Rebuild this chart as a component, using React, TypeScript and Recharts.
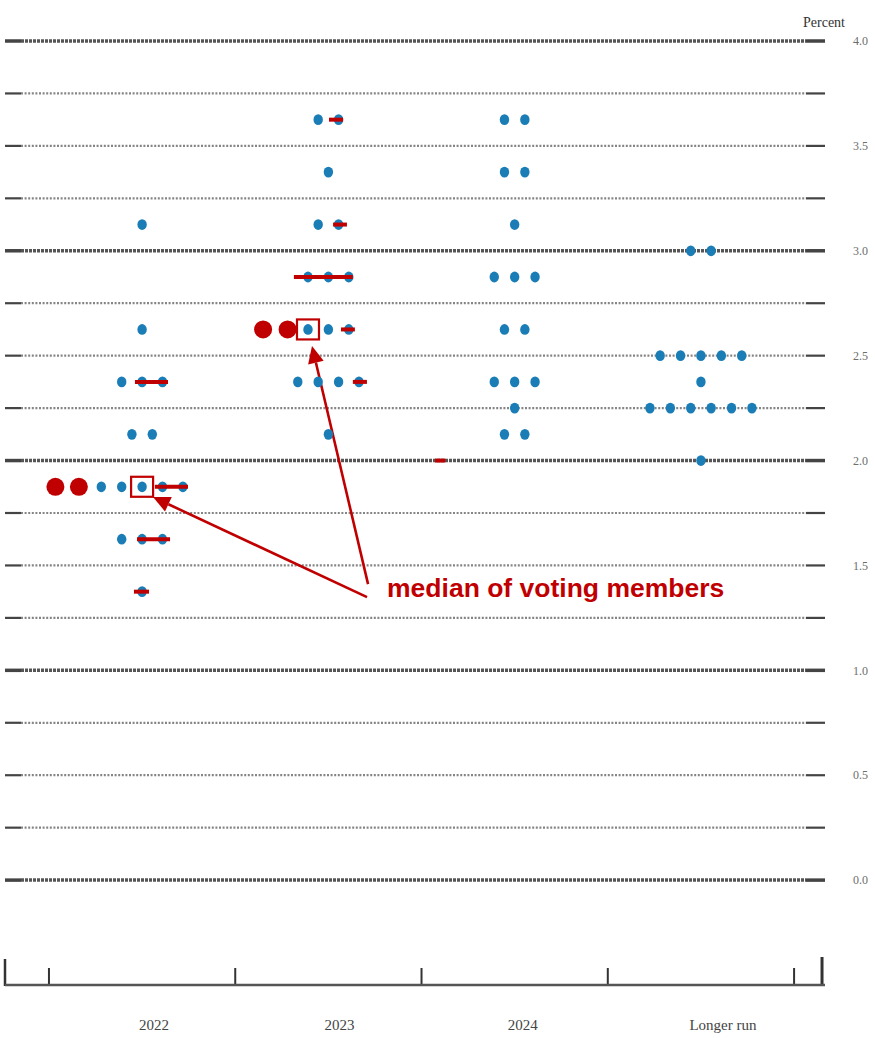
import React from "react";
import { ScatterChart, Scatter, XAxis, YAxis, ReferenceLine } from "recharts";

const categories = ["2022", "2023", "2024", "Longer run"];

// number of participants at each rate, per horizon
const dots2022 = [
  { rate: 3.125, n: 1 },
  { rate: 2.625, n: 1 },
  { rate: 2.375, n: 3 },
  { rate: 2.125, n: 2 },
  { rate: 1.875, n: 5 },
  { rate: 1.625, n: 3 },
  { rate: 1.375, n: 1 },
];
const dots2023 = [
  { rate: 3.625, n: 2 },
  { rate: 3.375, n: 1 },
  { rate: 3.125, n: 2 },
  { rate: 2.875, n: 3 },
  { rate: 2.625, n: 3 },
  { rate: 2.375, n: 4 },
  { rate: 2.125, n: 1 },
];
const dots2024 = [
  { rate: 3.625, n: 2 },
  { rate: 3.375, n: 2 },
  { rate: 3.125, n: 1 },
  { rate: 2.875, n: 3 },
  { rate: 2.625, n: 2 },
  { rate: 2.375, n: 3 },
  { rate: 2.25, n: 1 },
  { rate: 2.125, n: 2 },
];
const dotsLongerRun = [
  { rate: 3.0, n: 2 },
  { rate: 2.5, n: 5 },
  { rate: 2.375, n: 1 },
  { rate: 2.25, n: 6 },
  { rate: 2.0, n: 1 },
];

// large red dots (slot = position in dot widths from the category centre)
const votingDots = [
  { cat: 0, rate: 1.875, slot: -3.1 },
  { cat: 0, rate: 1.875, slot: -4.25 },
  { cat: 1, rate: 2.625, slot: -2.0 },
  { cat: 1, rate: 2.625, slot: -3.2 },
];

// red median bars, from/to in dot widths from the category centre
const medianBars = [
  { cat: 0, rate: 2.375, from: -0.35, to: 1.27 },
  { cat: 0, rate: 1.875, from: 0.63, to: 2.25 },
  { cat: 0, rate: 1.625, from: -0.25, to: 1.37 },
  { cat: 0, rate: 1.375, from: -0.4, to: 0.34 },
  { cat: 1, rate: 3.625, from: 0.03, to: 0.72 },
  { cat: 1, rate: 3.125, from: 0.23, to: 0.91 },
  { cat: 1, rate: 2.875, from: -1.69, to: 1.2 },
  { cat: 1, rate: 2.625, from: 0.62, to: 1.3 },
  { cat: 1, rate: 2.375, from: 1.2, to: 1.89 },
  { cat: 2, rate: 2.0, from: -3.9, to: -3.4 },
];

const boxedDots = [
  { cat: 0, rate: 1.875, slot: 0 },
  { cat: 1, rate: 2.625, slot: -1 },
];

// annotation arrows in chart units (x: category units, y: percent)
const arrows = [
  { x1: 1.2075, y1: 1.349, x2: 0.0585, y2: 1.826 },
  { x1: 1.213, y1: 1.411, x2: 0.912, y2: 2.546 },
];
const noteText = "median of voting members";
const notePos = [{ x: 1.315, y: 1.349 }];

const gridRates = [0, 0.25, 0.5, 0.75, 1, 1.25, 1.5, 1.75, 2, 2.25, 2.5, 2.75, 3, 3.25, 3.5, 3.75, 4];
const yTicks = [0, 0.5, 1, 1.5, 2, 2.5, 3, 3.5, 4];
const xTicks = [0, 1, 2, 3];
const boundaries = [-0.5, 0.5, 1.5, 2.5, 3.5];
const labelShift = [12, 11, 8, 22];

const SLOT = 0.1095;
const X_DOMAIN: [number, number] = [-0.736, 3.666];
const RED = "#c00000";
const BLUE = "#1b7db6";
const SERIF = "'Liberation Serif', 'Times New Roman', serif";

const blueDots = [dots2022, dots2023, dots2024, dotsLongerRun].flatMap((rows, k) =>
  rows.flatMap((r) =>
    Array.from({ length: r.n }, (_, i) => ({ x: k + (i - (r.n - 1) / 2) * SLOT, y: r.rate }))
  )
);
const redDots = votingDots.map((d) => ({ x: d.cat + d.slot * SLOT, y: d.rate }));
const boxes = boxedDots.map((d) => ({ x: d.cat + d.slot * SLOT, y: d.rate }));

const gridShape = (major: boolean) => (props: any) => {
  const { x1, x2, y1 } = props;
  const w = major ? 3.5 : 2.2;
  const c = major ? "#555" : "#858585";
  return (
    <g>
      <line x1={x1} x2={x1 + 16} y1={y1} y2={y1} stroke="#444" strokeWidth={w} />
      <line x1={x1 + 16} x2={x2 - 19} y1={y1} y2={y1} stroke={c} strokeWidth={w} strokeDasharray={major ? "3 1" : "2 1.6"} />
      <line x1={x2 - 19} x2={x2} y1={y1} y2={y1} stroke="#444" strokeWidth={w} />
    </g>
  );
};

const tickShape = (h: number, w: number) => (props: any) => {
  const { x1, y1, y2 } = props;
  const bottom = Math.max(y1, y2);
  return <line x1={x1} x2={x1} y1={bottom - h} y2={bottom + 1} stroke="#333" strokeWidth={w} />;
};

const arrowShape = (props: any) => {
  const { x1, y1, x2, y2 } = props;
  const dx = x2 - x1;
  const dy = y2 - y1;
  const len = Math.hypot(dx, dy);
  const ux = dx / len;
  const uy = dy / len;
  const hl = 17;
  const hw = 8;
  const bx = x2 - ux * hl;
  const by = y2 - uy * hl;
  return (
    <g>
      <line x1={x1} y1={y1} x2={bx} y2={by} stroke={RED} strokeWidth={2.6} />
      <polygon points={`${x2},${y2} ${bx - uy * hw},${by + ux * hw} ${bx + uy * hw},${by - ux * hw}`} fill={RED} />
    </g>
  );
};

const CategoryTick = (props: any) => {
  const { x, y, payload } = props;
  return (
    <text x={x + labelShift[payload.value]} y={y + 45} textAnchor="middle" fontFamily={SERIF} fontSize={15} fill="#444">
      {categories[payload.value]}
    </text>
  );
};

const PercentLabel = (props: any) => {
  const vb = props.viewBox || {};
  return (
    <text x={(vb.x ?? 825) - 1} y={(vb.y ?? 41) - 14} textAnchor="middle" fill="#333" fontSize={14} fontFamily={SERIF}>
      Percent
    </text>
  );
};

const noShape = () => <g />;

export default function App() {
  return (
    <div style={{ position: "absolute", left: 0, top: 0 }}>
      <ScatterChart width={875} height={1038} margin={{ top: 41, right: 0, bottom: 0, left: 5 }}>
        <XAxis
          type="number"
          dataKey="x"
          domain={X_DOMAIN}
          allowDataOverflow
          ticks={xTicks}
          interval={0}
          tick={<CategoryTick />}
          tickLine={false}
          tickSize={0}
          tickMargin={0}
          axisLine={{ stroke: "#555", strokeWidth: 2.5 }}
          height={53}
        />
        <YAxis
          type="number"
          dataKey="y"
          orientation="right"
          domain={[-0.5, 4]}
          allowDataOverflow
          ticks={yTicks}
          interval={0}
          tickFormatter={(v: number) => v.toFixed(1)}
          axisLine={false}
          tickLine={false}
          tickSize={0}
          tickMargin={28}
          width={50}
          tick={{ fontSize: 12, fill: "#6d6d6d", fontFamily: SERIF }}
          label={PercentLabel}
        />
        {gridRates.map((r) => (
          <ReferenceLine
            key={`g${r}`}
            segment={[
              { x: X_DOMAIN[0], y: r },
              { x: X_DOMAIN[1], y: r },
            ]}
            shape={gridShape(Number.isInteger(r))}
          />
        ))}
        {boundaries.map((b) => (
          <ReferenceLine key={`b${b}`} x={b} shape={tickShape(17, 2)} />
        ))}
        <ReferenceLine x={X_DOMAIN[0]} shape={tickShape(26, 2.5)} />
        <ReferenceLine x={3.65} shape={tickShape(28, 3)} />
        <Scatter data={blueDots} isAnimationActive={false} shape={(p: any) => <ellipse cx={p.cx} cy={p.cy} rx={4.7} ry={5.4} fill={BLUE} />} />
        <Scatter data={redDots} isAnimationActive={false} shape={(p: any) => <circle cx={p.cx} cy={p.cy} r={9} fill={RED} />} />
        {medianBars.map((m, i) => (
          <Scatter
            key={`m${i}`}
            data={[
              { x: m.cat + m.from * SLOT, y: m.rate },
              { x: m.cat + m.to * SLOT, y: m.rate },
            ]}
            line={{ stroke: RED, strokeWidth: 4 }}
            shape={noShape}
            isAnimationActive={false}
          />
        ))}
        <Scatter
          data={boxes}
          isAnimationActive={false}
          shape={(p: any) => <rect x={p.cx - 11} y={p.cy - 10} width={22} height={20} fill="none" stroke={RED} strokeWidth={2.2} />}
        />
        {arrows.map((a, i) => (
          <ReferenceLine key={`a${i}`} segment={[{ x: a.x1, y: a.y1 }, { x: a.x2, y: a.y2 }]} shape={arrowShape} />
        ))}
        <Scatter
          data={notePos}
          isAnimationActive={false}
          shape={(p: any) => (
            <text x={p.cx} y={p.cy} fill={RED} fontWeight="bold" fontSize={26.5} fontFamily="'Liberation Sans', Arial, sans-serif">
              {noteText}
            </text>
          )}
        />
      </ScatterChart>
    </div>
  );
}
